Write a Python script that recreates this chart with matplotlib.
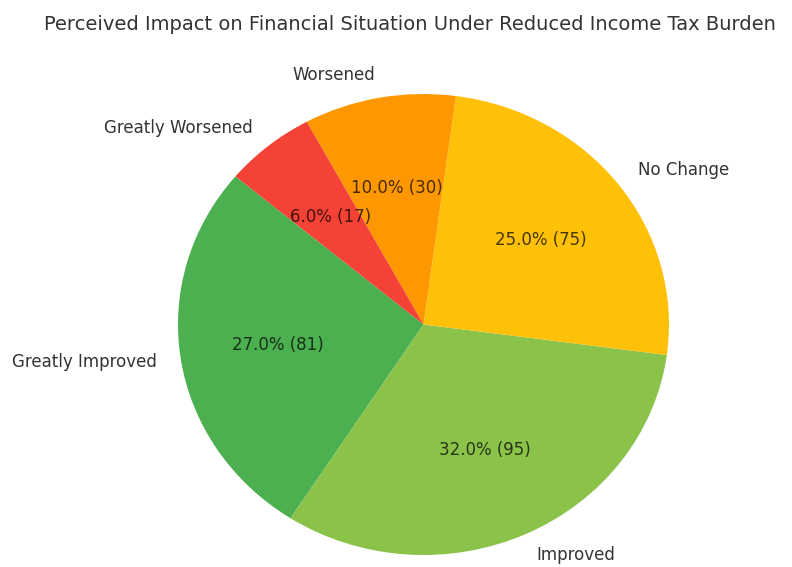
import matplotlib
matplotlib.use("Agg")
import matplotlib.pyplot as plt

categories = ["Greatly Improved", "Improved", "No Change", "Worsened", "Greatly Worsened"]
percentages = [27.0, 32.0, 25.0, 10.0, 6.0]
counts = [81, 95, 75, 30, 17]
colors = ["#4CAF50", "#8BC34A", "#FFC107", "#FF9800", "#F44336"]

W, H = 792, 567
fig = plt.figure(figsize=(W / 100, H / 100), dpi=100)

# axes holding the pie (slightly wider than tall)
cx, cy, rx, ry = 423.5, 324.5, 245.5, 230.5
aw, ah = 2.5 * rx, 2.5 * ry
ax = fig.add_axes([(cx - aw / 2) / W, ((H - cy) - ah / 2) / H, aw / W, ah / H])


def fmt(pct):
    i = min(range(len(percentages)), key=lambda k: abs(percentages[k] - pct))
    return f"{percentages[i]:.1f}% ({counts[i]})"


wedges, texts, autotexts = ax.pie(
    percentages,
    labels=categories,
    colors=colors,
    autopct=fmt,
    startangle=140,
    textprops={"fontsize": 12, "color": "#333333"},
)
for t in autotexts:
    t.set_color("black")
    t.set_alpha(0.72)
ax.set_xlim(-1.25, 1.25)
ax.set_ylim(-1.25, 1.25)
ax.set_aspect("auto")

fig.text(410 / W, 1 - 24 / H, "Perceived Impact on Financial Situation Under Reduced Income Tax Burden",
         ha="center", va="center", fontsize=14, color="#333333")

fig.savefig("out.png", dpi=100)
